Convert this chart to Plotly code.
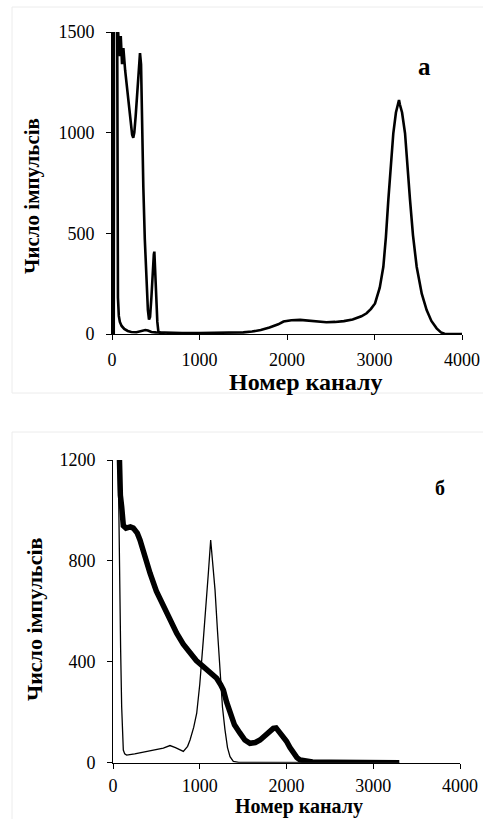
import plotly.graph_objects as go

# ---------------- data ----------------
# panel "а"
a_ch1 = [0, 6, 50, 60, 68, 78, 90, 110, 140, 180, 220, 280, 340, 380, 410, 450, 500, 600, 800,
         1000, 1200, 1400, 1500, 1600, 1700, 1800, 1900, 1960, 2050, 2150, 2250, 2350, 2450,
         2550, 2650, 2750, 2850, 2910, 2960, 3006, 3060, 3101, 3130, 3158, 3190, 3215, 3245,
         3270, 3280, 3290, 3315, 3349, 3380, 3406, 3440, 3482, 3540, 3596, 3650, 3710, 3760,
         3800, 3900, 4000]
a_cnt1 = [0, 3000, 3000, 600, 180, 90, 60, 40, 25, 15, 10, 9, 14, 20, 17, 10, 8, 6, 5,
          5, 5, 6, 8, 12, 20, 32, 48, 62, 68, 70, 66, 62, 58,
          60, 64, 72, 88, 103, 125, 152, 230, 334, 480, 666, 850, 997, 1100,
          1150, 1162, 1140, 1100, 997, 840, 666, 490, 334, 200, 119, 65, 28, 8,
          1, 0, 0]

a_ch2 = [20, 25, 62, 70, 85, 100, 115, 130, 150, 170, 190, 210, 230, 243, 255, 270, 290, 305,
         320, 332, 345, 358, 375, 396, 410, 423, 435, 450, 465, 478, 484, 492, 505, 518, 530,
         560, 600]
a_cnt2 = [0, 3000, 3000, 1500, 1380, 1480, 1340, 1420, 1310, 1230, 1130, 1040, 990, 975, 1000,
          1080, 1220, 1330, 1395, 1340, 1000, 730, 470, 235, 120, 72, 85, 180, 320, 395, 409,
          330, 170, 60, 12, 3, 0]

# panel "б"
b_chA = [45, 60, 73, 88, 100, 110, 119, 135, 157, 250, 350, 450, 503, 580, 657, 720, 811, 860,
         888, 930, 965, 1000, 1041, 1070, 1099, 1126, 1150, 1176, 1205, 1233, 1262, 1291, 1320,
         1349, 1387, 1450, 3300]
b_cntA = [1600, 1100, 750, 450, 222, 110, 50, 35, 30, 35, 42, 48, 50, 58, 68, 60, 45, 65,
          90, 140, 196, 310, 487, 640, 751, 883, 800, 685, 520, 354, 220, 130, 60,
          24, 5, 1, 0]

b_chB = [45, 70, 85, 100, 119, 150, 200, 234, 280, 311, 360, 427, 500, 580, 660, 734, 810, 888,
         960, 1041, 1120, 1195, 1240, 1272, 1310, 1349, 1400, 1464, 1520, 1579, 1640, 1695,
         1770, 1848, 1880, 1900, 1950, 2000, 2040, 2078, 2120, 2156, 2220, 2300, 2500, 3300]
b_cntB = [1600, 1150, 1060, 1015, 940, 930, 935, 930, 910, 883, 820, 751, 680, 619, 560, 513,
          470, 434, 405, 381, 355, 335, 310, 288, 240, 196, 150, 117, 90, 77, 80, 90,
          115, 136, 138, 130, 110, 85, 60, 37, 20, 11, 5, 3, 2, 0]

x_ticks = [0, 1000, 2000, 3000, 4000]
a_y_ticks = [0, 500, 1000, 1500]
b_y_ticks = [0, 400, 800, 1200]

x_title = "Номер каналу"
y_title = "Число імпульсів"

# ---------------- figure ----------------
W, H = 483, 819
FONT = "Liberation Serif, Times New Roman, DejaVu Serif, serif"


def px_x(p):
    return p / W


def px_y(p):
    return 1 - p / H


fig = go.Figure()

fig.add_trace(go.Scatter(x=a_ch1, y=a_cnt1, mode="lines", line=dict(color="black", width=2.6),
                         xaxis="x", yaxis="y", showlegend=False))
fig.add_trace(go.Scatter(x=a_ch2, y=a_cnt2, mode="lines", line=dict(color="black", width=2.6),
                         xaxis="x", yaxis="y", showlegend=False))
fig.add_trace(go.Scatter(x=b_chB, y=b_cntB, mode="lines", line=dict(color="black", width=5.5),
                         xaxis="x2", yaxis="y2", showlegend=False))
fig.add_trace(go.Scatter(x=b_chA, y=b_cntA, mode="lines", line=dict(color="black", width=1.3),
                         xaxis="x2", yaxis="y2", showlegend=False))

axis_common = dict(showgrid=False, zeroline=False, showline=True, linecolor="black", linewidth=1,
                   ticks="outside", ticklen=5, tickwidth=1, tickcolor="black", automargin=False,
                   tickfont=dict(family=FONT, size=18, color="black"))

fig.update_layout(
    width=W, height=H,
    margin=dict(l=0, r=0, t=0, b=0, pad=0),
    paper_bgcolor="white", plot_bgcolor="white",
    font=dict(family=FONT, color="black"),
    xaxis=dict(domain=[px_x(112), px_x(462)], range=[0, 4000], tickvals=x_ticks,
               anchor="y", ticklabelstandoff=4, **axis_common),
    yaxis=dict(domain=[px_y(334), px_y(32)], range=[0, 1500], tickvals=a_y_ticks,
               anchor="x", ticklabelstandoff=8, **axis_common),
    xaxis2=dict(domain=[px_x(113), px_x(460)], range=[0, 4000], tickvals=x_ticks,
                anchor="y2", ticklabelstandoff=2, **axis_common),
    yaxis2=dict(domain=[px_y(762.7), px_y(460)], range=[0, 1200], tickvals=b_y_ticks,
                anchor="x2", ticklabelstandoff=8, **axis_common),
)

ann = [
    dict(text="<b>%s</b>" % x_title, x=px_x(306), y=px_y(382), font=dict(family=FONT, size=24, color="black")),
    dict(text="<b>%s</b>" % y_title, x=px_x(32), y=px_y(196), font=dict(family=FONT, size=21, color="black"), textangle=-90),
    dict(text="<b>а</b>", x=px_x(424.5), y=px_y(66), font=dict(family=FONT, size=25, color="black")),
    dict(text="<b>%s</b>" % x_title, x=px_x(299), y=px_y(806), font=dict(family=FONT, size=20, color="black")),
    dict(text="<b>%s</b>" % y_title, x=px_x(34), y=px_y(619), font=dict(family=FONT, size=22, color="black"), textangle=-90),
    dict(text="<b>б</b>", x=px_x(440), y=px_y(488), font=dict(family=FONT, size=20, color="black")),
]
for a in ann:
    a.update(xref="paper", yref="paper", showarrow=False, xanchor="center", yanchor="middle")
    fig.add_annotation(**a)

# faint frames around the two panels
fig.add_shape(type="rect", xref="paper", yref="paper", x0=px_x(12), x1=px_x(490), y0=px_y(393), y1=px_y(7),
              line=dict(color="#ececec", width=1), layer="below")
fig.add_shape(type="rect", xref="paper", yref="paper", x0=px_x(12), x1=px_x(490), y0=px_y(830), y1=px_y(432),
              line=dict(color="#ececec", width=1), layer="below")

fig.write_html("out.html", config={"displayModeBar": False},
               post_script="document.body.style.margin='0';document.body.style.overflow='hidden';")
